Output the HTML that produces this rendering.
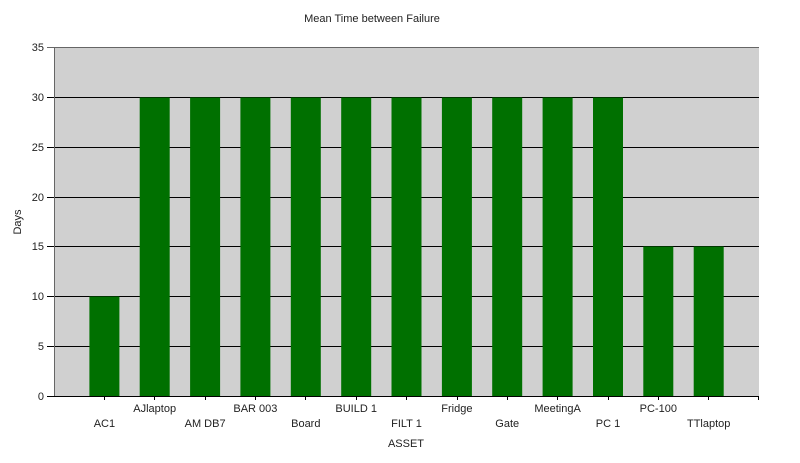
<!DOCTYPE html>
<html><head><style>body{margin:0;background:#fff}</style></head><body>
<svg width="800" height="458" xmlns="http://www.w3.org/2000/svg" font-family="Liberation Sans, sans-serif" font-size="11" fill="#222">
<rect x="54" y="47" width="705" height="349" fill="#d0d0d0"/>
<g stroke="#000" stroke-width="1">
<line x1="47" y1="97.5" x2="759" y2="97.5"/>
<line x1="47" y1="147.5" x2="759" y2="147.5"/>
<line x1="47" y1="197.5" x2="759" y2="197.5"/>
<line x1="47" y1="246.5" x2="759" y2="246.5"/>
<line x1="47" y1="296.5" x2="759" y2="296.5"/>
<line x1="47" y1="346.5" x2="759" y2="346.5"/>
<line x1="47" y1="396.5" x2="759" y2="396.5"/>
</g>
<line x1="47" y1="47.5" x2="759" y2="47.5" stroke="#666"/>
<line x1="54.5" y1="47" x2="54.5" y2="396" stroke="#666"/>
<g fill="#007000">
<rect x="89.4" y="296.5" width="30" height="99.5"/>
<rect x="139.7" y="97.5" width="30" height="298.5"/>
<rect x="190.1" y="97.5" width="30" height="298.5"/>
<rect x="240.4" y="97.5" width="30" height="298.5"/>
<rect x="290.8" y="97.5" width="30" height="298.5"/>
<rect x="341.2" y="97.5" width="30" height="298.5"/>
<rect x="391.5" y="97.5" width="30" height="298.5"/>
<rect x="441.9" y="97.5" width="30" height="298.5"/>
<rect x="492.2" y="97.5" width="30" height="298.5"/>
<rect x="542.6" y="97.5" width="30" height="298.5"/>
<rect x="593" y="97.5" width="30" height="298.5"/>
<rect x="643.3" y="246.5" width="30" height="149.5"/>
<rect x="693.7" y="246.5" width="30" height="149.5"/>
</g>
<g stroke="#000">
<line x1="104.5" y1="396" x2="104.5" y2="400"/><line x1="154.5" y1="396" x2="154.5" y2="400"/><line x1="205.5" y1="396" x2="205.5" y2="400"/><line x1="255.5" y1="396" x2="255.5" y2="400"/><line x1="305.5" y1="396" x2="305.5" y2="400"/><line x1="356.5" y1="396" x2="356.5" y2="400"/><line x1="406.5" y1="396" x2="406.5" y2="400"/><line x1="457.5" y1="396" x2="457.5" y2="400"/><line x1="507.5" y1="396" x2="507.5" y2="400"/><line x1="557.5" y1="396" x2="557.5" y2="400"/><line x1="608.5" y1="396" x2="608.5" y2="400"/><line x1="658.5" y1="396" x2="658.5" y2="400"/><line x1="708.5" y1="396" x2="708.5" y2="400"/><line x1="758.5" y1="396" x2="758.5" y2="400"/>
</g>
<g text-anchor="end">
<text x="44" y="51">35</text><text x="44" y="101">30</text><text x="44" y="151">25</text><text x="44" y="201">20</text><text x="44" y="250">15</text><text x="44" y="300">10</text><text x="44" y="350">5</text><text x="44" y="400">0</text>
</g>
<g text-anchor="middle">
<text x="104.4" y="427">AC1</text>
<text x="154.7" y="412">AJlaptop</text>
<text x="205.1" y="427">AM DB7</text>
<text x="255.4" y="412">BAR 003</text>
<text x="305.8" y="427">Board</text>
<text x="356.2" y="412">BUILD 1</text>
<text x="406.5" y="427">FILT 1</text>
<text x="456.9" y="412">Fridge</text>
<text x="507.2" y="427">Gate</text>
<text x="557.6" y="412">MeetingA</text>
<text x="608" y="427">PC 1</text>
<text x="658.3" y="412">PC-100</text>
<text x="708.7" y="427">TTlaptop</text>
<text x="406" y="447">ASSET</text>
<text x="372" y="22">Mean Time between Failure</text>
<text transform="translate(21,222) rotate(-90)">Days</text>
</g>
</svg>
</body></html>
